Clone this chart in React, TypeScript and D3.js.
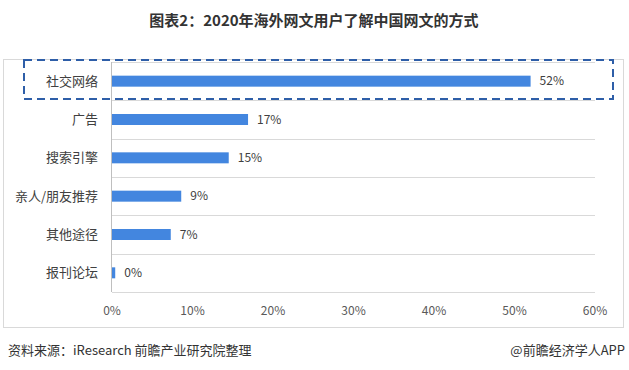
import React, { useEffect, useRef } from 'react';
import * as d3 from 'd3';

const categories = ['社交网络', '广告', '搜索引擎', '亲人/朋友推荐', '其他途径', '报刊论坛'];
const values = [52, 16.9, 14.5, 8.6, 7.3, 0.4];
const valueLabels = ['52%', '17%', '15%', '9%', '7%', '0%'];
const xTicks = [0, 10, 20, 30, 40, 50, 60];

const App: React.FC = () => {
  const chartRef = useRef(null);

  useEffect(() => {
    if (!chartRef.current) return;
    const svg = d3.select(chartRef.current);
    svg.selectAll('*').remove();

    const font = '"Microsoft YaHei", "Noto Sans CJK SC", sans-serif';

    // title
    svg
      .append('text')
      .attr('x', 314)
      .attr('y', 26)
      .attr('text-anchor', 'middle')
      .attr('font-family', font)
      .attr('font-size', 15)
      .attr('font-weight', 'bold')
      .attr('fill', '#333')
      .text('图表2：2020年海外网文用户了解中国网文的方式');

    // outer frame
    svg
      .append('rect')
      .attr('x', 3.5)
      .attr('y', 59.5)
      .attr('width', 620)
      .attr('height', 268)
      .attr('fill', 'none')
      .attr('stroke', '#d9d9d9');

    const x = d3.scaleLinear().domain([0, 60]).range([112, 595]);
    const y = d3.scaleBand().domain(categories).range([62, 292]);

    // separator lines between categories
    const bounds = categories.map((c) => y(c) || 0).concat([292]);
    svg
      .append('g')
      .selectAll('line')
      .data(bounds)
      .enter()
      .append('line')
      .attr('x1', 112)
      .attr('x2', 595)
      .attr('y1', (d) => Math.round(d) + 0.5)
      .attr('y2', (d) => Math.round(d) + 0.5)
      .attr('stroke', '#d9d9d9');

    // vertical axis line
    svg
      .append('line')
      .attr('x1', 111.5)
      .attr('x2', 111.5)
      .attr('y1', 62)
      .attr('y2', 292)
      .attr('stroke', '#bfbfbf');

    const barH = 11;
    const rows = categories.map((c, i) => ({ c, v: values[i], label: valueLabels[i] }));

    svg
      .append('g')
      .selectAll('rect')
      .data(rows)
      .enter()
      .append('rect')
      .attr('x', x(0))
      .attr('y', (d) => (y(d.c) || 0) + y.bandwidth() / 2 - barH / 2)
      .attr('width', (d) => x(d.v) - x(0))
      .attr('height', barH)
      .attr('fill', '#4386df');

    // value labels
    svg
      .append('g')
      .selectAll('text')
      .data(rows)
      .enter()
      .append('text')
      .attr('x', (d) => x(d.v) + 9)
      .attr('y', (d) => (y(d.c) || 0) + y.bandwidth() / 2)
      .attr('dy', '0.35em')
      .attr('font-family', font)
      .attr('font-size', 12)
      .attr('fill', '#404040')
      .text((d) => d.label);

    // category labels
    svg
      .append('g')
      .selectAll('text')
      .data(categories)
      .enter()
      .append('text')
      .attr('x', 98)
      .attr('y', (d) => (y(d) || 0) + y.bandwidth() / 2)
      .attr('dy', '0.35em')
      .attr('text-anchor', 'end')
      .attr('font-family', font)
      .attr('font-size', 13)
      .attr('fill', '#404040')
      .text((d) => d);

    // x axis tick labels
    svg
      .append('g')
      .selectAll('text')
      .data(xTicks)
      .enter()
      .append('text')
      .attr('x', (d) => x(d))
      .attr('y', 311)
      .attr('dy', '0.35em')
      .attr('text-anchor', 'middle')
      .attr('font-family', font)
      .attr('font-size', 12)
      .attr('fill', '#595959')
      .text((d) => `${d}%`);

    // dashed highlight box
    svg
      .append('rect')
      .attr('x', 24)
      .attr('y', 60)
      .attr('width', 589)
      .attr('height', 39)
      .attr('fill', 'none')
      .attr('stroke', '#2e5ea8')
      .attr('stroke-width', 2)
      .attr('stroke-dasharray', '8,5');

    // footer
    svg
      .append('text')
      .attr('x', 8)
      .attr('y', 355)
      .attr('font-family', font)
      .attr('font-size', 13)
      .attr('fill', '#333')
      .text('资料来源：iResearch 前瞻产业研究院整理');

    svg
      .append('text')
      .attr('x', 625)
      .attr('y', 355)
      .attr('text-anchor', 'end')
      .attr('font-family', font)
      .attr('font-size', 13)
      .attr('fill', '#333')
      .text('@前瞻经济学人APP');

    return () => {
      svg.selectAll('*').remove();
    };
  }, []);

  return (
    <svg
      ref={chartRef}
      width={629}
      height={370}
      style={{ position: 'absolute', left: 0, top: 0, background: '#fff' }}
    ></svg>
  );
};

export default App;
